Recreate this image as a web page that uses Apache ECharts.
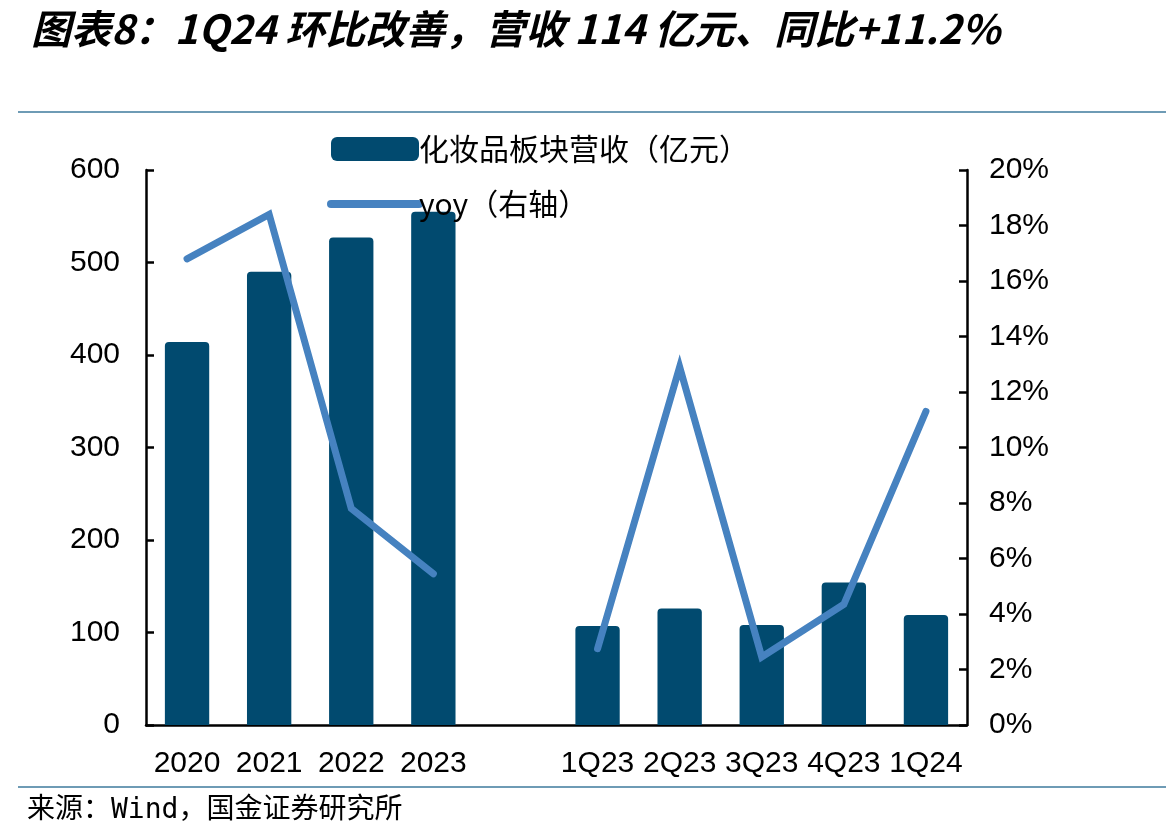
<!DOCTYPE html>
<html>
<head>
<meta charset="utf-8">
<script src="https://cdn.jsdelivr.net/npm/echarts@6/dist/echarts.min.js"></script>
<style>
  html, body { margin: 0; padding: 0; background: #fff; }
  #chart { width: 1166px; height: 840px; }
</style>
</head>
<body>
<div id="chart"></div>
<script>
const categories = ['2020', '2021', '2022', '2023', '', '1Q23', '2Q23', '3Q23', '4Q23', '1Q24'];
const revenue = [414, 490, 527, 555, null, 107, 126, 108, 154, 119];
const yoy = [16.8, 18.4, 7.8, 5.45, null, 2.75, 12.9, 2.45, 4.35, 11.3];
const leftTicks = [0, 100, 200, 300, 400, 500, 600];
const rightTicks = [0, 2, 4, 6, 8, 10, 12, 14, 16, 18, 20];

const barColor = '#014a6f';
const lineColor = '#4682c0';
const font = '"Liberation Sans", Arial, sans-serif';

const chart = echarts.init(document.getElementById('chart'), null, { renderer: 'canvas' });

const option = {
  animation: false,
  title: [
    {
      text: '图表8：1Q24 环比改善，营收 114 亿元、同比+11.2%',
      left: 26,
      top: 4,
      textStyle: {
        fontFamily: '"Noto Sans CJK SC", sans-serif',
        fontStyle: 'italic',
        fontWeight: 'bold',
        fontSize: 40,
        color: '#000'
      }
    },
    {
      text: '来源：Wind，国金证券研究所',
      left: 22,
      top: 792,
      textStyle: {
        fontFamily: '"DejaVu Sans Mono", "Noto Sans CJK SC", monospace',
        fontWeight: 'normal',
        fontSize: 28,
        color: '#000'
      }
    }
  ],
  graphic: [
    { type: 'line', shape: { x1: 18, y1: 112, x2: 1166, y2: 112 }, style: { stroke: '#3e7a9c', lineWidth: 1.5 } },
    { type: 'line', shape: { x1: 18, y1: 787, x2: 1166, y2: 787 }, style: { stroke: '#3e7a9c', lineWidth: 1.5 } }
  ],
  legend: {
    orient: 'vertical',
    left: 327,
    top: 134,
    padding: 0,
    itemWidth: 88,
    itemHeight: 24,
    itemGap: 25,
    textStyle: { fontFamily: '"Noto Sans CJK SC", sans-serif', fontSize: 30, color: '#000', padding: [0, 0, 0, -5] },
    data: [
      { name: '化妆品板块营收（亿元）', icon: 'roundRect' },
      { name: 'yoy（右轴）', itemStyle: { opacity: 0 }, lineStyle: { width: 8, cap: 'round', color: lineColor } }
    ]
  },
  grid: { left: 146, right: 199, top: 170, bottom: 115 },
  xAxis: {
    type: 'category',
    data: categories,
    axisLine: { lineStyle: { color: '#000', width: 2.5 } },
    axisTick: { inside: true, length: 8, lineStyle: { color: '#000', width: 2.5 } },
    axisLabel: { fontFamily: font, fontSize: 30, color: '#000', margin: 24, interval: 0 }
  },
  yAxis: [
    {
      type: 'value',
      min: leftTicks[0],
      max: leftTicks[leftTicks.length - 1],
      interval: 100,
      axisLine: { show: true, lineStyle: { color: '#000', width: 2.5 } },
      axisTick: { show: true, inside: true, length: 8, lineStyle: { color: '#000', width: 2.5 } },
      axisLabel: { fontFamily: font, fontSize: 30, color: '#000', margin: 26 },
      splitLine: { show: false }
    },
    {
      type: 'value',
      min: rightTicks[0],
      max: rightTicks[rightTicks.length - 1],
      interval: 2,
      position: 'right',
      axisLine: { show: true, lineStyle: { color: '#000', width: 2.5 } },
      axisTick: { show: true, inside: true, length: 8, lineStyle: { color: '#000', width: 2.5 } },
      axisLabel: { fontFamily: font, fontSize: 30, color: '#000', margin: 22, formatter: '{value}%' },
      splitLine: { show: false }
    }
  ],
  series: [
    {
      name: '化妆品板块营收（亿元）',
      type: 'bar',
      data: revenue,
      barWidth: '54%',
      itemStyle: { color: barColor, borderRadius: [4, 4, 0, 0] }
    },
    {
      name: 'yoy（右轴）',
      type: 'line',
      yAxisIndex: 1,
      data: yoy,
      symbol: 'none',
      connectNulls: false,
      itemStyle: { color: lineColor },
      lineStyle: { color: lineColor, width: 7, cap: 'round', join: 'miter' }
    }
  ]
};

chart.setOption(option);
</script>
</body>
</html>
